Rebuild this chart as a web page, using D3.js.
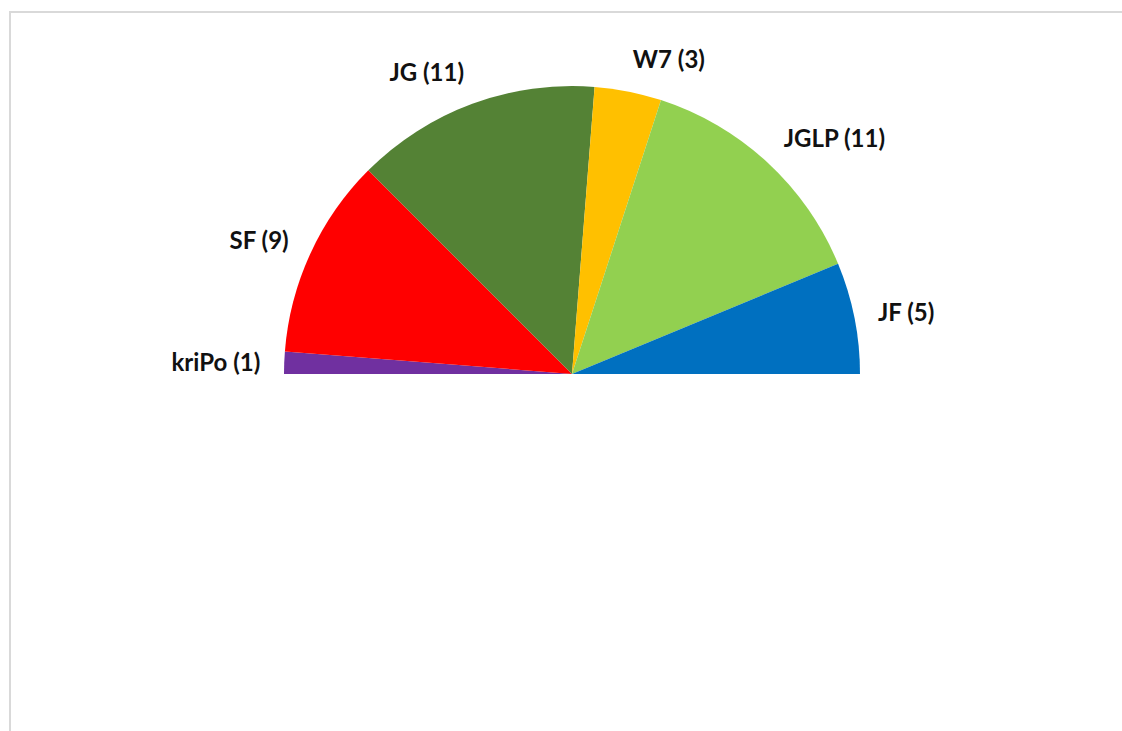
<!DOCTYPE html>
<html>
<head>
<meta charset="utf-8">
<script src="https://cdn.jsdelivr.net/npm/d3@7"></script>
<style>
  body { margin: 0; background: #fff; }
  svg { display: block; }
</style>
</head>
<body>
<div id="chart"></div>
<script>
// seat distribution
const parties = ['kriPo', 'SF', 'JG', 'W7', 'JGLP', 'JF'];
const seats = [1, 9, 11, 3, 11, 5];
const colors = ['#7030A0', '#FF0000', '#548235', '#FFC000', '#92D050', '#0070C0'];

const width = 1122, height = 731;
const cx = 572, cy = 374, radius = 288;

let svg = d3.select('#chart')
    .append('svg')
    .attr('width', width)
    .attr('height', height);

// chart area frame
svg.append('rect')
    .attr('x', 10)
    .attr('y', 12)
    .attr('width', width + 20)
    .attr('height', height + 20)
    .attr('fill', 'none')
    .attr('stroke', '#d9d9d9')
    .attr('stroke-width', 2);

const data = parties.map((p, i) => ({ party: p, seats: seats[i], color: colors[i] }));

const pie = d3.pie()
    .sort(null)
    .value(d => d.seats)
    .startAngle(-Math.PI / 2)
    .endAngle(Math.PI / 2);

const arc = d3.arc()
    .innerRadius(0)
    .outerRadius(radius);

let group = svg.append('g')
    .attr('transform', `translate(${cx}, ${cy})`);

const arcs = pie(data);

group.selectAll('path.slice')
    .data(arcs)
    .join('path')
    .attr('class', 'slice')
    .attr('d', arc)
    .attr('fill', d => d.data.color);

// labels outside end
const labelR = radius + 24;
const labels = group.selectAll('text.label')
    .data(arcs)
    .join('text')
    .attr('class', 'label')
    .attr('font-family', 'Lato, sans-serif')
    .attr('font-weight', 'bold')
    .attr('font-size', 24)
    .attr('fill', '#111')
    .attr('text-anchor', 'middle')
    .attr('dominant-baseline', 'central')
    .text(d => `${d.data.party} (${d.data.seats})`);

labels.each(function(d) {
    const a = (d.startAngle + d.endAngle) / 2;
    const dx = Math.sin(a), dy = -Math.cos(a);
    const box = this.getBBox();
    const w = box.width, h = box.height * 0.7;
    const px = labelR * dx, py = labelR * dy;
    const x = px + Math.sign(dx) * w / 2;
    const y = py + dy * h / 2;
    d3.select(this).attr('x', x).attr('y', y);
});
</script>
</body>
</html>
